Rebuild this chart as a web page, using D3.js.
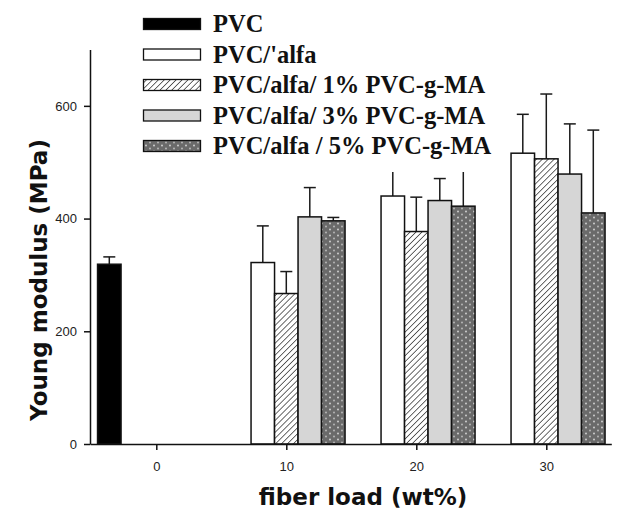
<!DOCTYPE html>
<html>
<head>
<meta charset="utf-8">
<script src="https://cdn.jsdelivr.net/npm/d3@7/dist/d3.min.js"></script>
<style>
  html, body { margin: 0; padding: 0; background: #fff; }
  svg { display: block; }
</style>
</head>
<body>
<svg id="chart" width="628" height="515"></svg>
<script>
// Fiber loads (wt%) on the x axis
const categories = [0, 10, 20, 30];
const seriesNames = ["PVC", "PVC/'alfa", "PVC/alfa/ 1% PVC-g-MA", "PVC/alfa/ 3% PVC-g-MA", "PVC/alfa / 5% PVC-g-MA"];

// Young modulus means (MPa), one entry per fiber load
const pvc      = [319, null, null, null];
const alfa     = [null, 322, 440, 516];
const alfa1    = [null, 267, 377, 506];
const alfa3    = [null, 403, 432, 479];
const alfa5    = [null, 396, 422, 410];

// Standard deviations (upper error bars)
const pvcErr   = [13, null, null, null];
const alfaErr  = [null, 65, 50, 69];
const alfa1Err = [null, 39, 61, 115];
const alfa3Err = [null, 52, 39, 89];
const alfa5Err = [null, 6, 70, 147];

const yTicks = [0, 200, 400, 600];
const xTicks = [0, 10, 20, 30];

const values = [pvc, alfa, alfa1, alfa3, alfa5];
const errors = [pvcErr, alfaErr, alfa1Err, alfa3Err, alfa5Err];
const fills = ["#000", "#fff", "url(#hatch)", "#d6d6d6", "url(#dots)"];

const svg = d3.select("#chart");

// Patterns
const defs = svg.append("defs");
const hatch = defs.append("pattern")
  .attr("id", "hatch").attr("patternUnits", "userSpaceOnUse")
  .attr("width", 4.2).attr("height", 4.2)
  .attr("patternTransform", "rotate(45)");
hatch.append("rect").attr("width", 4.2).attr("height", 4.2).attr("fill", "#fff");
hatch.append("line").attr("x1", 0).attr("y1", 0).attr("x2", 0).attr("y2", 4.2)
  .attr("stroke", "#2a2a2a").attr("stroke-width", 1.4);

const dots = defs.append("pattern")
  .attr("id", "dots").attr("patternUnits", "userSpaceOnUse")
  .attr("width", 8).attr("height", 6);
dots.append("rect").attr("width", 8).attr("height", 6).attr("fill", "#6a6a6a");
dots.append("circle").attr("cx", 2).attr("cy", 1.5).attr("r", 0.9).attr("fill", "#d8d8d8");
dots.append("circle").attr("cx", 6).attr("cy", 4.5).attr("r", 0.9).attr("fill", "#bdbdbd");

// Scales
const x = d3.scaleLinear().domain([-5.1, 35]).range([90, 611.3]);
const y = d3.scaleLinear().domain([0, 700]).range([444, 49.5]);
const groupHalf = 58.75;
const inner = d3.scaleBand().domain(d3.range(seriesNames.length)).range([-groupHalf, groupHalf]).padding(0);

// Bars
const barData = [];
values.forEach((arr, s) => {
  arr.forEach((v, i) => {
    if (v != null) barData.push({ s, cat: categories[i], v, e: errors[s][i] });
  });
});

const bars = svg.append("g");
// Error bars (upper side only)
bars.selectAll("g.err").data(barData).join("g").attr("class", "err").each(function (d) {
  const cx = x(d.cat) + inner(d.s) + inner.bandwidth() / 2;
  const g = d3.select(this);
  g.append("line").attr("x1", cx).attr("x2", cx)
    .attr("y1", y(d.v)).attr("y2", y(d.v + d.e))
    .attr("stroke", "#1a1a1a").attr("stroke-width", 1.5);
  g.append("line").attr("x1", cx - 6).attr("x2", cx + 6)
    .attr("y1", y(d.v + d.e)).attr("y2", y(d.v + d.e))
    .attr("stroke", "#1a1a1a").attr("stroke-width", 1.5);
});

bars.selectAll("rect.bar").data(barData).join("rect").attr("class", "bar")
  .attr("x", d => x(d.cat) + inner(d.s))
  .attr("width", inner.bandwidth())
  .attr("y", d => y(d.v))
  .attr("height", d => y(0) - y(d.v))
  .attr("fill", d => fills[d.s])
  .attr("stroke", "#111").attr("stroke-width", 1.5);

// Axes
const yAxis = svg.append("g").attr("transform", "translate(90,0)")
  .call(d3.axisLeft(y).tickValues(yTicks).tickSize(6).tickSizeOuter(0).tickPadding(7));
const xAxis = svg.append("g").attr("transform", "translate(0,444)")
  .call(d3.axisBottom(x).tickValues(xTicks).tickSize(6).tickSizeOuter(0).tickPadding(12));
[yAxis, xAxis].forEach(a => {
  a.select(".domain").attr("stroke", "#111").attr("stroke-width", 1.5);
  a.selectAll(".tick line").attr("stroke", "#111").attr("stroke-width", 1.5);
  a.selectAll(".tick text").attr("font-family", "'Liberation Sans', Arial, sans-serif")
    .attr("font-size", 13).attr("fill", "#222");
});

// Axis titles
svg.append("text")
  .attr("transform", "translate(47,280) rotate(-90)")
  .attr("text-anchor", "middle")
  .attr("font-family", "'DejaVu Sans', Verdana, sans-serif")
  .attr("font-weight", "bold").attr("font-size", 23).attr("fill", "#111")
  .text("Young modulus (MPa)");
svg.append("text")
  .attr("x", 363).attr("y", 505)
  .attr("text-anchor", "middle")
  .attr("font-family", "'DejaVu Sans', Verdana, sans-serif")
  .attr("font-weight", "bold").attr("font-size", 23).attr("fill", "#111")
  .text("fiber load (wt%)");

// Legend (opaque box over the plot area)
const legend = svg.append("g");
legend.append("rect").attr("x", 135).attr("y", 0).attr("width", 372).attr("height", 172).attr("fill", "#fff");
const rowY = d3.scaleLinear().domain([0, 4]).range([24, 146]);
seriesNames.forEach((name, i) => {
  const cy = rowY(i);
  legend.append("rect").attr("x", 143.5).attr("y", cy - 5.5).attr("width", 57).attr("height", 11)
    .attr("fill", fills[i]).attr("stroke", "#111").attr("stroke-width", 1.3);
  legend.append("text").attr("x", 213).attr("y", cy + 8)
    .attr("font-family", "'Liberation Serif', 'Times New Roman', serif")
    .attr("font-weight", "bold").attr("font-size", 24.5).attr("fill", "#111")
    .text(name);
});
</script>
</body>
</html>
